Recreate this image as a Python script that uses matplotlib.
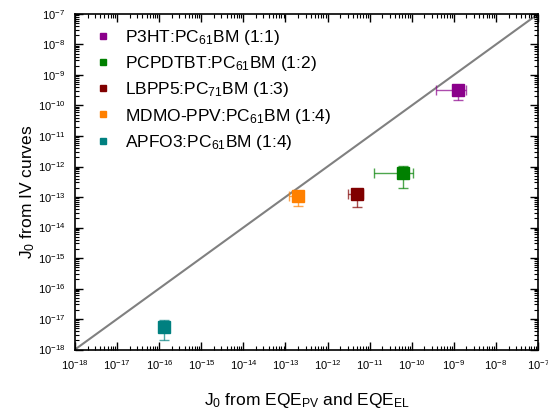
import matplotlib
matplotlib.use("Agg")
import matplotlib.pyplot as plt
import numpy as np
from matplotlib.ticker import LogLocator, LogFormatterMathtext, NullFormatter

plt.rcParams['font.family'] = ['Liberation Sans', 'DejaVu Sans']
plt.rcParams['mathtext.default'] = 'regular'
plt.rcParams['mathtext.fontset'] = 'custom'
plt.rcParams['mathtext.rm'] = 'Liberation Sans'

# Dark saturation current: EQE-derived (x) vs IV-derived (y)
labels = ["P3HT:PC$_{61}$BM (1:1)", "PCPDTBT:PC$_{61}$BM (1:2)",
          "LBPP5:PC$_{71}$BM (1:3)", "MDMO-PPV:PC$_{61}$BM (1:4)",
          "APFO3:PC$_{61}$BM (1:4)"]
colors = ["#8b008b", "#008000", "#800000", "#ff8000", "#008080"]
j0_eqe = [1.26e-9, 6.1e-11, 4.9e-12, 2.0e-13, 1.3e-16]
j0_eqe_lo = [3.8e-10, 1.3e-11, 3.0e-12, 1.2e-13, 1.3e-16]
j0_eqe_hi = [2.0e-9, 1.1e-10, 6.8e-12, 2.2e-13, 1.3e-16]
j0_iv = [3.2e-10, 6.3e-13, 1.25e-13, 1.1e-13, 5.5e-18]
j0_iv_lo = [1.5e-10, 2.0e-13, 4.7e-14, 5.1e-14, 2.1e-18]
j0_iv_hi = [4.5e-10, 1.06e-12, 1.8e-13, 1.5e-13, 9.5e-18]
axis_lim = [1e-18, 1e-7]

fig = plt.figure(figsize=(5.48, 4.15), dpi=100)
ax = fig.add_axes([75/548, 65.5/415, 463/548, 335.5/415])

ax.plot(axis_lim, axis_lim, color="#808080", lw=1.5, zorder=1)

for i in range(len(labels)):
    xerr = [[j0_eqe[i] - j0_eqe_lo[i]], [j0_eqe_hi[i] - j0_eqe[i]]]
    yerr = [[j0_iv[i] - j0_iv_lo[i]], [j0_iv_hi[i] - j0_iv[i]]]
    ax.errorbar([j0_eqe[i]], [j0_iv[i]], xerr=xerr, yerr=yerr, fmt='none',
                ecolor=colors[i], elinewidth=1.0, capsize=3.5, capthick=1.0,
                alpha=0.7, zorder=2)
    ax.plot([j0_eqe[i]], [j0_iv[i]], 's', color=colors[i], ms=8,
            zorder=3, label=labels[i], linestyle='none')

ax.set_xscale('log')
ax.set_yscale('log')
ax.set_xlim(axis_lim)
ax.set_ylim(axis_lim)

for axis in (ax.xaxis, ax.yaxis):
    axis.set_major_locator(LogLocator(base=10, numticks=20))
    axis.set_minor_locator(LogLocator(base=10, subs=np.arange(2, 10), numticks=20))
    axis.set_major_formatter(LogFormatterMathtext())
    axis.set_minor_formatter(NullFormatter())

ax.tick_params(which='both', direction='in', top=True, right=True, labelsize=8)
ax.tick_params(axis='x', pad=6)
ax.tick_params(axis='y', pad=7)
ax.tick_params(which='major', length=6, width=1.0)
ax.tick_params(which='minor', length=3, width=0.8)
for s in ax.spines.values():
    s.set_linewidth(1.2)

ax.set_xlabel("J$_0$ from EQE$_{PV}$ and EQE$_{EL}$", fontsize=12.5)
ax.xaxis.set_label_coords(0.5, -0.125)
ax.set_ylabel("J$_0$ from IV curves", fontsize=12.5)
ax.yaxis.set_label_coords(-0.082, 0.47)

leg = ax.legend(loc='upper left', frameon=False, fontsize=12.5, markerscale=0.6,
                handletextpad=0.5, labelspacing=0.42, borderaxespad=0.0,
                handlelength=1.6, bbox_to_anchor=(0.015, 0.98))

fig.savefig("out.png", dpi=100)
